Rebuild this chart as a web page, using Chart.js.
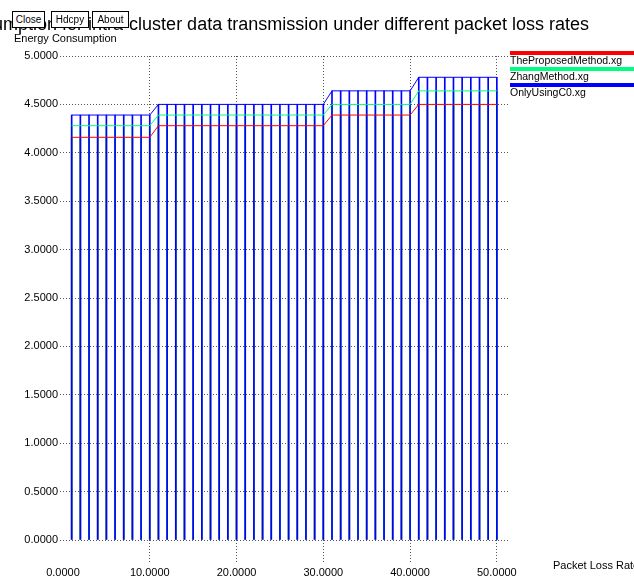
<!DOCTYPE html>
<html>
<head>
<meta charset="utf-8">
<script src="https://cdn.jsdelivr.net/npm/chart.js@4.4.0/dist/chart.umd.min.js"></script>
<style>
    body { margin: 0; background: #fff; }
    #wrap { position: relative; width: 634px; height: 579px; }
    .btn {
        position: absolute; top: 11px; height: 15px;
        border: 1px solid #000; background: #fff;
        font: 10px "Liberation Sans", Arial, sans-serif;
        line-height: 15px; text-align: center; color: #000;
    }
</style>
</head>
<body>
<div id="wrap">
    <canvas id="chart" width="634" height="579"></canvas>
    <div class="btn" style="left:12px;width:31px;">Close</div>
    <div class="btn" style="left:51px;width:36px;">Hdcpy</div>
    <div class="btn" style="left:92px;width:35px;">About</div>
</div>
<script>
// Packet loss rate (x) for each sample
const packetLossRates = [1, 2, 3, 4, 5, 6, 7, 8, 9, 10,
    11, 12, 13, 14, 15, 16, 17, 18, 19, 20,
    21, 22, 23, 24, 25, 26, 27, 28, 29, 30,
    31, 32, 33, 34, 35, 36, 37, 38, 39, 40,
    41, 42, 43, 44, 45, 46, 47, 48, 49, 50];

// Energy consumption per series
const proposedValues = [4.16, 4.16, 4.16, 4.16, 4.16, 4.16, 4.16, 4.16, 4.16, 4.16,
    4.28, 4.28, 4.28, 4.28, 4.28, 4.28, 4.28, 4.28, 4.28, 4.28,
    4.28, 4.28, 4.28, 4.28, 4.28, 4.28, 4.28, 4.28, 4.28, 4.28,
    4.39, 4.39, 4.39, 4.39, 4.39, 4.39, 4.39, 4.39, 4.39, 4.39,
    4.50, 4.50, 4.50, 4.50, 4.50, 4.50, 4.50, 4.50, 4.50, 4.50];
const zhangValues = [4.28, 4.28, 4.28, 4.28, 4.28, 4.28, 4.28, 4.28, 4.28, 4.28,
    4.39, 4.39, 4.39, 4.39, 4.39, 4.39, 4.39, 4.39, 4.39, 4.39,
    4.39, 4.39, 4.39, 4.39, 4.39, 4.39, 4.39, 4.39, 4.39, 4.39,
    4.50, 4.50, 4.50, 4.50, 4.50, 4.50, 4.50, 4.50, 4.50, 4.50,
    4.64, 4.64, 4.64, 4.64, 4.64, 4.64, 4.64, 4.64, 4.64, 4.64];
const onlyC0Values = [4.39, 4.39, 4.39, 4.39, 4.39, 4.39, 4.39, 4.39, 4.39, 4.39,
    4.50, 4.50, 4.50, 4.50, 4.50, 4.50, 4.50, 4.50, 4.50, 4.50,
    4.50, 4.50, 4.50, 4.50, 4.50, 4.50, 4.50, 4.50, 4.50, 4.50,
    4.64, 4.64, 4.64, 4.64, 4.64, 4.64, 4.64, 4.64, 4.64, 4.64,
    4.78, 4.78, 4.78, 4.78, 4.78, 4.78, 4.78, 4.78, 4.78, 4.78];

const seriesNames = ['TheProposedMethod.xg', 'ZhangMethod.xg', 'OnlyUsingC0.xg'];
const seriesColors = ['#ff0000', '#00ff80', '#0000ff'];
const xTickValues = [0, 10, 20, 30, 40, 50];

const titleText = 'Energy Consumption for intra-cluster data transmission under different packet loss rates';
const yAxisTitle = 'Energy Consumption';
const xAxisTitle = 'Packet Loss Rate';

const FONT = '"Liberation Sans", Arial, sans-serif';

function toPoints(values) {
    return packetLossRates.map((x, i) => ({ x: x, y: values[i] }));
}

const allSeries = [proposedValues, zhangValues, onlyC0Values];

// lines on top (lowest order), then bars: blue bars over cyan over red
const datasets = [];
allSeries.forEach((vals, i) => {
    datasets.push({
        type: 'line',
        label: seriesNames[i],
        data: toPoints(vals),
        borderColor: seriesColors[i],
        borderWidth: 1,
        pointRadius: 0,
        tension: 0,
        order: i
    });
});
allSeries.forEach((vals, i) => {
    datasets.push({
        type: 'bar',
        label: seriesNames[i] + ' bars',
        data: toPoints(vals),
        backgroundColor: seriesColors[i],
        borderWidth: 0,
        barThickness: 1,
        grouped: false,
        order: 10 - i
    });
});

// Title, axis captions and the xgraph-like legend
const decorPlugin = {
    id: 'decor',
    afterDraw(chart) {
        const ctx = chart.ctx;
        ctx.save();
        ctx.fillStyle = '#000';
        ctx.textBaseline = 'alphabetic';

        ctx.font = '18px ' + FONT;
        ctx.textAlign = 'right';
        ctx.fillText(titleText, 589, 30);

        ctx.font = '11px ' + FONT;
        ctx.textAlign = 'left';
        ctx.fillText(yAxisTitle, 14, 42);
        ctx.fillText(xAxisTitle, 553, 569);

        const lx = chart.chartArea.right + 1;
        ctx.font = '10.5px ' + FONT;
        for (let i = 0; i < 3; i++) {
            const y = 53 + i * 16;
            ctx.fillStyle = seriesColors[i];
            ctx.fillRect(lx, y - 2, chart.width - lx, 4);
            ctx.fillStyle = '#000';
            ctx.fillText(seriesNames[i], lx, y + 11);
        }
        ctx.restore();
    }
};

const gridDots = '#555';

new Chart(document.getElementById('chart'), {
    type: 'bar',
    data: { datasets: datasets },
    plugins: [decorPlugin],
    options: {
        responsive: false,
        animation: false,
        devicePixelRatio: 1,
        layout: { padding: { left: 0, top: 56, right: 125, bottom: 0 } },
        plugins: {
            legend: { display: false },
            title: { display: false },
            tooltip: { enabled: false }
        },
        scales: {
            x: {
                type: 'linear',
                min: 0,
                max: 51.4,
                offset: false,
                afterBuildTicks: axis => {
                    axis.ticks = xTickValues.map(v => ({ value: v }));
                },
                afterFit: axis => { axis.height = 39; },
                border: { display: false, dash: [1, 2] },
                grid: {
                    offset: false,
                    color: c => (c.tick && c.tick.value === 0) ? 'rgba(0,0,0,0)' : gridDots,
                    tickColor: c => (c.tick && c.tick.value === 0) ? 'rgba(0,0,0,0)' : gridDots,
                    borderDash: [1, 2],
                    tickBorderDash: [1, 2],
                    tickLength: 23,
                    lineWidth: 1
                },
                ticks: {
                    autoSkip: false,
                    maxRotation: 0,
                    padding: 3,
                    color: '#000',
                    font: { family: FONT, size: 11 },
                    callback: v => Number(v).toFixed(4)
                }
            },
            y: {
                min: 0,
                max: 5,
                afterFit: axis => { axis.width = 63; },
                border: { display: false, dash: [1, 2] },
                grid: {
                    color: gridDots,
                    tickColor: gridDots,
                    borderDash: [1, 2],
                    tickBorderDash: [1, 2],
                    tickLength: 3,
                    lineWidth: 1
                },
                ticks: {
                    stepSize: 0.5,
                    padding: 2,
                    color: '#000',
                    font: { family: FONT, size: 11 },
                    callback: v => Number(v).toFixed(4)
                }
            }
        }
    }
});
</script>
</body>
</html>
